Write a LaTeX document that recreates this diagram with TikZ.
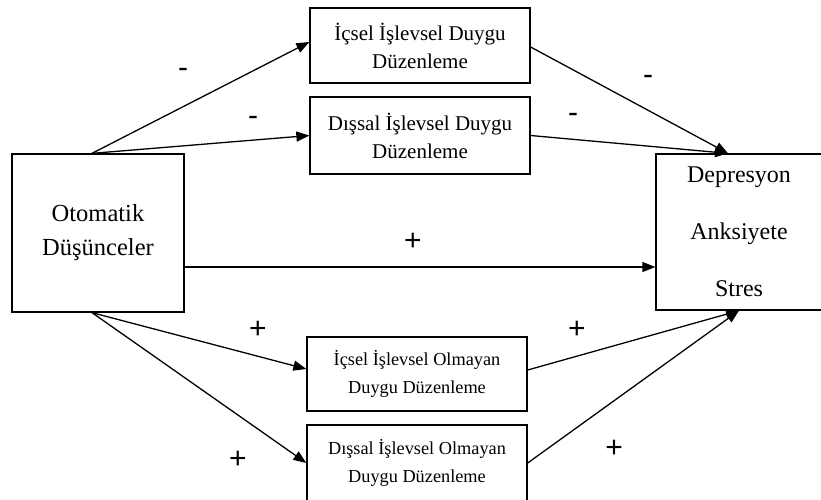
\documentclass[tikz,border=0pt]{standalone}
\usepackage{fontspec}
\setmainfont{Liberation Serif}
\newfontfamily\signfont{Liberation Sans}
\usetikzlibrary{arrows.meta,calc}
\begin{document}
\begin{tikzpicture}[x=1pt,y=-1pt,
  box/.style={draw,line width=1.3pt,align=center,inner sep=0pt},
  arr/.style={line width=1.3pt,-{Triangle[length=13pt,width=10pt]}},
  sign/.style={font=\signfont\fontsize{30}{30}\selectfont,inner sep=0pt}]
\useasboundingbox (0,0) rectangle (821,499);
\node[box,minimum width=172pt,minimum height=158pt,font=\fontsize{24.5}{34}\selectfont] (L) at (98,233) {Otomatik\\Düşünceler};
\node[box,minimum width=166pt,minimum height=156pt,font=\fontsize{24}{57}\selectfont] (R) at (739,232) {Depresyon\\Anksiyete\\Stres};
\node[box,minimum width=220pt,minimum height=75pt,font=\fontsize{21}{28}\selectfont] (B1) at (420,45.5) {İçsel İşlevsel Duygu\\Düzenleme};
\node[box,minimum width=220pt,minimum height=77pt,font=\fontsize{21}{28}\selectfont] (B2) at (420,135.5) {Dışsal İşlevsel Duygu\\Düzenleme};
\node[box,minimum width=220pt,minimum height=74pt,font=\fontsize{18.3}{28}\selectfont] (B3) at (417,374) {İçsel İşlevsel Olmayan\\Duygu Düzenleme};
\node[box,minimum width=220pt,minimum height=76pt,font=\fontsize{18.3}{28}\selectfont] (B4) at (417,463) {Dışsal İşlevsel Olmayan\\Duygu Düzenleme};
\coordinate (Lt) at ([xshift=-6pt]L.north);
\coordinate (Lb) at ([xshift=-6pt]L.south);
\coordinate (Rt) at ([xshift=-11pt]R.north);
\coordinate (Rb) at (R.south);
\draw[arr] (Lt) -- ([yshift=3.5pt]B1.west);
\draw[arr] (Lt) -- (B2.west);
\draw[arr] ([yshift=-1.5pt]B1.east) -- (Rt);
\draw[arr] (B2.east) -- (Rt);
\draw[arr] ([yshift=-34pt]L.east) -- ([yshift=-34pt]L.east -| R.west);
\draw[arr] (Lb) -- ([yshift=5pt]B3.west);
\draw[arr] (Lb) -- (B4.west);
\draw[arr] ([yshift=4pt]B3.east) -- (Rb);
\draw[arr] (B4.east) -- (Rb);
\node[sign] (s1) at (183,73) {-};
\node[sign] (s2) at (253,121) {-};
\node[sign] (s3) at (648,80) {-};
\node[sign] (s4) at (573,118) {-};
\node[sign] (s5) at (413,242) {+};
\node[sign] (s6) at (258,330) {+};
\node[sign] (s7) at (238,460) {+};
\node[sign] (s8) at (577,330) {+};
\node[sign] (s9) at (614,449) {+};
\end{tikzpicture}
\end{document}
